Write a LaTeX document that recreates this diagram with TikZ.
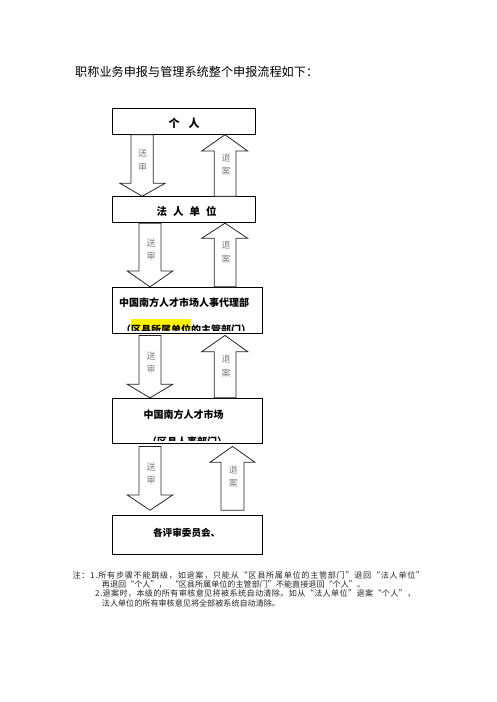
\documentclass[tikz,border=0pt]{standalone}
\usepackage{fontspec}
\setmainfont{Noto Sans CJK SC}
\usetikzlibrary{calc}
\begin{document}
\begin{tikzpicture}[x=1pt,y=-1pt,
  box/.style={draw=black,line width=0.9pt,fill=white,inner sep=0pt,rectangle},
  blk/.style={draw=black!85,line width=0.8pt,fill=white,line join=miter},
  lbl/.style={font=\fontsize{10}{12}\selectfont\bfseries,inner sep=0pt},
  arrtxt/.style={font=\fontsize{9}{13.3}\selectfont,text=black!50,inner sep=0pt,align=center},
  note/.style={inner sep=0pt,anchor=west,text=black!85}]
\useasboundingbox[fill=white] (0,0) rectangle (496,702);

\node[anchor=west,inner sep=0pt,font=\fontsize{12.15}{14}\selectfont] (title) at (75,72.3) {职称业务申报与管理系统整个申报流程如下：};

% boxes
\node[box,minimum width=143.4pt,minimum height=26pt] (A) at (184,121.3) {};
\node[box,minimum width=143.4pt,minimum height=26pt] (B) at (184,209.7) {};
\node[box,minimum width=150pt,minimum height=46pt] (C) at (187.3,310.3) {};
\node[box,minimum width=150pt,minimum height=45pt] (D) at (187.3,420.8) {};
\node[box,minimum width=150pt,minimum height=38.6pt] (E) at (187.3,535) {};

\node[lbl,font=\fontsize{11}{12}\selectfont\bfseries] (Al) at (184.2,123.5) {个\hspace{9pt}人};
\node[lbl,font=\fontsize{10.5}{12}\selectfont\bfseries] (Bl) at (186.7,211) {法\hspace{6pt}人\hspace{6pt}单\hspace{6pt}位};
\node[lbl,anchor=west] (Cl) at (119,302.7) {中国南方人才市场人事代理部};
\begin{scope}
  \clip (C.north west) rectangle ([yshift=3.3pt]C.south east);
  \fill[yellow] (131,319) rectangle (191,330);
  \node[lbl,anchor=west] (C2) at (121,329.5) {（区县所属单位的主管部门）};
\end{scope}
\node[lbl] (Dl) at (183.5,415) {中国南方人才市场};
\begin{scope}
  \clip (D.north west) rectangle ([yshift=3pt]D.south east);
  \node[lbl] (D2) at (187,442) {（区县人事部门）};
\end{scope}
\node[lbl,font=\fontsize{9.6}{12}\selectfont\bfseries] (El) at (186.7,532.7) {各评审委员会、};

% auxiliary end points
\coordinate (c3) at ([yshift=-1.7pt]C.south);
\coordinate (e4) at ([yshift=5pt]E.north);
\coordinate (d4) at ([yshift=-2.7pt]D.south);

% arrows A-B
\draw[blk] (131,0 |- A.south) -- (153.3,0 |- A.south) -- (153.3,183.3) -- (165,183.3) -- (142.2,0 |- B.north) -- (120,183.3) -- (131,183.3) -- cycle;
\draw[blk] (225,0 |- A.south) -- (247.7,151) -- (236,151) -- (236,0 |- B.north) -- (214.3,0 |- B.north) -- (214.3,151) -- (201.7,151) -- cycle;
% arrows B-C
\draw[blk] (139,0 |- B.south) -- (161,0 |- B.south) -- (161,271) -- (172.7,271) -- (150,0 |- C.north) -- (127.3,271) -- (139,271) -- cycle;
\draw[blk] (225,0 |- B.south) -- (247.7,238.3) -- (236,238.3) -- (236,0 |- C.north) -- (214.3,0 |- C.north) -- (214.3,238.3) -- (201.7,238.3) -- cycle;
% arrows C-D
\draw[blk] (139,0 |- c3) -- (161,0 |- c3) -- (161,384.3) -- (172.7,384.3) -- (150,0 |- D.north) -- (127.3,384.3) -- (139,384.3) -- cycle;
\draw[blk] (225,0 |- c3) -- (247.7,351.7) -- (236,351.7) -- (236,0 |- D.north) -- (214.3,0 |- D.north) -- (214.3,351.7) -- (201.7,351.7) -- cycle;
% arrows D-E
\draw[blk] (139,0 |- d4) -- (161,0 |- d4) -- (161,495) -- (172.7,495) -- (150,0 |- e4) -- (127.3,495) -- (139,495) -- cycle;
\draw[blk] (232.5,0 |- d4) -- (255,462.3) -- (244,462.3) -- (244,0 |- e4) -- (221,0 |- e4) -- (221,462.3) -- (210,462.3) -- cycle;

% arrow texts
\node[arrtxt] (t1a) at (142.7,160) {送\\审};
\node[arrtxt] (t1b) at (226,164.5) {退\\案};
\node[arrtxt] (t2a) at (151,249.5) {送\\审};
\node[arrtxt] (t2b) at (226,252.3) {退\\案};
\node[arrtxt] (t3a) at (151,362.7) {送\\审};
\node[arrtxt] (t3b) at (226,366.3) {退\\案};
\node[arrtxt] (t4a) at (151,473.3) {送\\审};
\node[arrtxt] (t4b) at (233.3,476.7) {退\\案};

% notes
\node[note,font=\fontsize{8.1}{9}\selectfont\addfontfeature{LetterSpace=9}] (n1) at (72.3,575) {注：1.所有步骤不能跳级，如退案，只能从“区县所属单位的主管部门”退回“法人单位”};
\node[note,font=\fontsize{8.1}{9}\selectfont] (n2) at (101.7,584.5) {再退回“个人”，\hspace{0.5em}“区县所属单位的主管部门”不能直接退回“个人”。};
\node[note,font=\fontsize{8.1}{9}\selectfont\addfontfeature{LetterSpace=4.5}] (n3) at (95,593.5) {2.退案时，本级的所有审核意见将被系统自动清除。如从“法人单位”退案“个人”，};
\node[note,font=\fontsize{8.1}{9}\selectfont] (n4) at (101.7,603.3) {法人单位的所有审核意见将全部被系统自动清除。};
\end{tikzpicture}
\end{document}
